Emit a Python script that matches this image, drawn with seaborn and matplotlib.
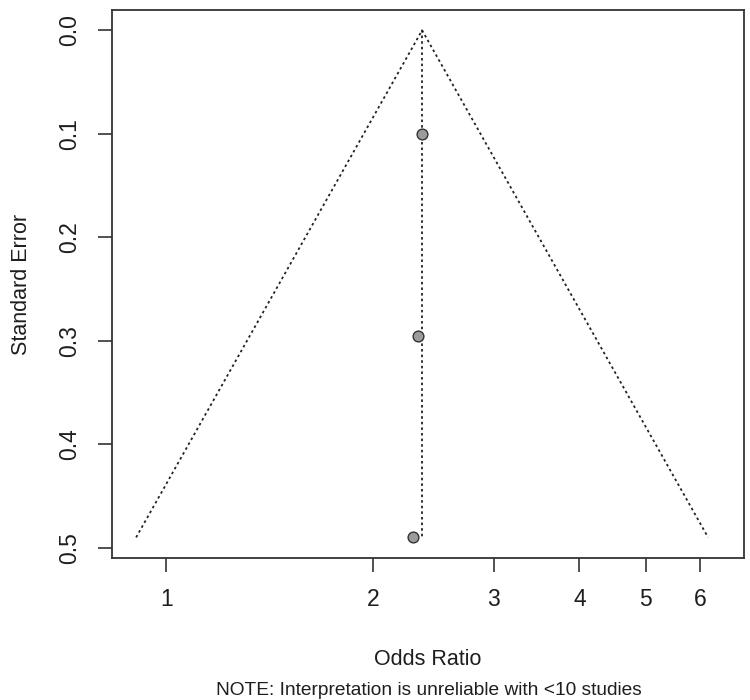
# Funnel plot: standard error vs odds ratio (log scale)
import numpy as np
import pandas as pd
import matplotlib
matplotlib.use("Agg")
import matplotlib.pyplot as plt
import seaborn as sns

# values
odds_ratio = [2.357, 2.325, 2.291]
std_error = [0.1002, 0.2953, 0.4898]
pooled_or = 2.359
z_crit = 1.96
x_ticks = [1, 2, 3, 4, 5, 6]
y_ticks = [0.0, 0.1, 0.2, 0.3, 0.4, 0.5]

sns.set_theme(style="ticks")
plt.rcParams["font.family"] = ["Liberation Sans", "DejaVu Sans"]
txt_col = "#1e1e1e"

studies = pd.DataFrame({"or": odds_ratio, "se": std_error})

# funnel edges (pseudo 95% limits around the pooled estimate)
se_max = max(std_error)
lo = np.exp(np.log(pooled_or) - z_crit * se_max)
hi = np.exp(np.log(pooled_or) + z_crit * se_max)
funnel = pd.DataFrame({
    "or": [lo, pooled_or, hi],
    "se": [se_max, 0.0, se_max],
})

fig = plt.figure(figsize=(7.5, 7), dpi=100)
ax = fig.add_axes([112 / 750, 1 - 557.7 / 700, 632 / 750, 547.7 / 700])

dots = (0, (1.4, 1.7))
sns.lineplot(data=funnel, x="or", y="se", sort=False, estimator=None,
             color="#222222", linestyle=dots, linewidth=1.3, ax=ax)
ax.plot([pooled_or, pooled_or], [0.0, se_max], color="#222222",
        linestyle=dots, linewidth=1.3)
sns.scatterplot(data=studies, x="or", y="se", color="#9c9c9c",
                edgecolor="#333333", linewidth=1.0, s=60, zorder=5, ax=ax)

ax.set_xscale("log")
ax.set_xlim(0.833, 6.95)
ax.set_ylim(0.5094, -0.0196)
ax.set_xticks(x_ticks)
ax.set_xticklabels([str(t) for t in x_ticks])
ax.xaxis.set_minor_locator(matplotlib.ticker.NullLocator())
ax.set_yticks(y_ticks)
ax.set_yticklabels([f"{t:.1f}" for t in y_ticks])
plt.setp(ax.get_yticklabels(), rotation=90, va="center")

ax.tick_params(axis="both", length=10, width=1.2, color="#333333",
               labelsize=16.5, labelcolor=txt_col, pad=12)
for sp in ax.spines.values():
    sp.set_visible(True)
    sp.set_color("#333333")
    sp.set_linewidth(1.3)

ax.set_xlabel("")
ax.set_ylabel("")

fig.text(428 / 750, 1 - 665 / 700, "Odds Ratio", ha="center", va="baseline",
         fontsize=15.5, color=txt_col)
fig.text(429 / 750, 1 - 695 / 700,
         "NOTE: Interpretation is unreliable with <10 studies",
         ha="center", va="baseline", fontsize=13.8, color=txt_col)
fig.text(22 / 750, 1 - 284 / 700, "Standard Error", rotation=90,
         ha="center", va="center", fontsize=15.5, color=txt_col)

fig.savefig("out.png", dpi=100)
